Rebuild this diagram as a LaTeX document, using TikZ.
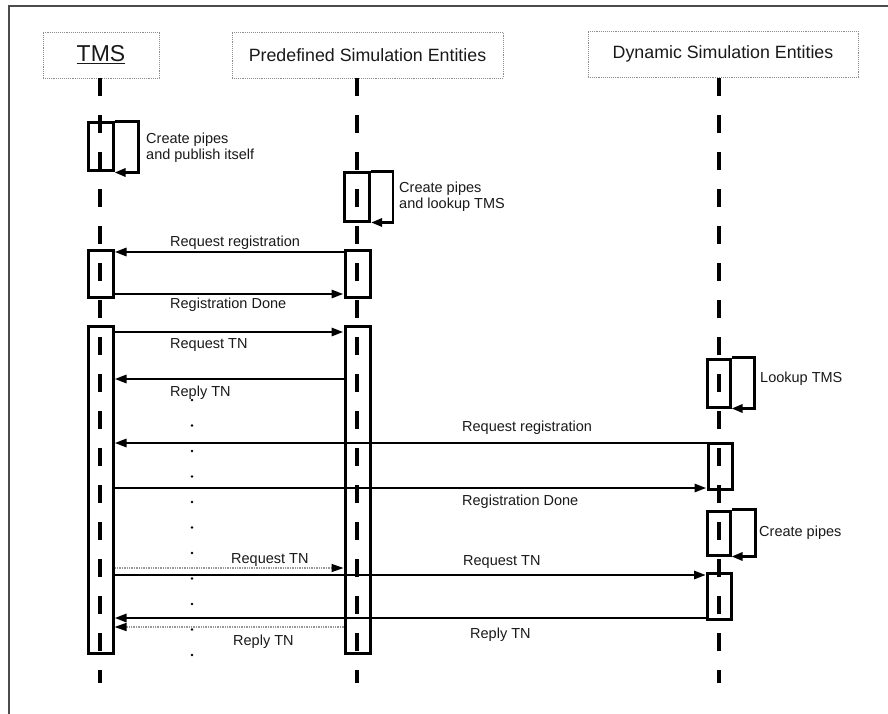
\documentclass[tikz,border=0pt]{standalone}
\usepackage{fontspec}
\setmainfont{Liberation Sans}
\usetikzlibrary{arrows.meta}
\begin{document}
\begin{tikzpicture}[x=1pt,y=-1pt,
  lbl/.style={anchor=west,inner sep=0pt,font=\fontsize{14.5}{16}\selectfont,text=black!90,align=left},
  hdr/.style={draw=black!45,densely dotted,line width=0.9pt,minimum height=46pt,inner sep=0pt,font=\fontsize{17.8}{20}\selectfont,text=black!90},
  act/.style={draw,line width=3pt,minimum width=25pt,inner sep=0pt,rectangle},
  life/.style={line width=3.5pt,dash pattern=on 18pt off 19pt},
  msg/.style={line width=2.8pt,-{Triangle[length=12pt,width=8pt]}},
  ghost/.style={line width=1.4pt,black!40,densely dotted,-{Triangle[length=12pt,width=8pt,fill=black,color=black]}},
  selfloop/.style={line width=2.8pt,-{Triangle[length=11pt,width=8pt]}},
  dot/.style={circle,fill=black,inner sep=0pt,minimum size=2.6pt}
]
\useasboundingbox (0,0) rectangle (888,714);
% frame
\draw[line width=1.5pt,black!70] (9,714) -- (9,6) -- (888,6);

% headers
\node[hdr,minimum width=116pt,font=\fontsize{23}{26}\selectfont] (hT) at (101,55) {\underline{TMS}};
\node[hdr,minimum width=271pt] (hP) at (367.5,55) {Predefined Simulation Entities};
\node[hdr,minimum width=270pt] (hD) at (723,54) {Dynamic Simulation Entities};

% lifelines
\coordinate (lT0) at (100,78);  \coordinate (lT1) at (100,683);
\coordinate (lP0) at (357,78);  \coordinate (lP1) at (357,683);
\coordinate (lD0) at (719,78);  \coordinate (lD1) at (719,683);
\draw[life] (lT0) -- (lT1);
\draw[life] (lP0) -- (lP1);
\draw[life] (lD0) -- (lD1);

% activation boxes
\node[act,minimum height=48pt] (tS) at (100.5,147) {};
\node[act,minimum height=47pt] (t1) at (100.5,273.5) {};
\node[act,minimum height=327pt] (t2) at (100.5,489.5) {};
\node[act,minimum height=48pt] (pS) at (357,197) {};
\node[act,minimum height=47pt] (p1) at (357.5,273.5) {};
\node[act,minimum height=327pt] (p2) at (357.5,489.5) {};
\node[act,minimum height=48pt,minimum width=23pt] (dS1) at (718.5,383) {};
\node[act,minimum height=46pt,minimum width=24pt] (d1) at (720,466) {};
\node[act,minimum height=44pt,minimum width=23pt] (dS2) at (718.5,533) {};
\node[act,minimum height=46pt,minimum width=24pt] (d2) at (719.5,596) {};

% self loops
\draw[selfloop] (tS.north east) -- ++(24,0) |- (tS.south east);
\draw[selfloop] (pS.north east) -- ++(22,0) |- (pS.south east);
\draw[selfloop] (dS1.north east) -- ++(23,0) |- (dS1.south east);
\draw[selfloop] (dS2.north east) -- ++(24,0) |- (dS2.south east);

\node[lbl] (ltS) at (146,147.5) {Create pipes\\and publish itself};
\node[lbl] (lpS) at (399,197) {Create pipes\\and lookup TMS};
\node[lbl] (ldS1) at (760,379) {Lookup TMS};
\node[lbl] (ldS2) at (759,533) {Create pipes};

% messages
\draw[msg] (p1.west |- 0,252) -- (t1.east |- 0,252);
\node[lbl] (m1) at (170,243) {Request registration};
\draw[msg] (t1.east |- 0,294) -- (p1.west |- 0,294);
\node[lbl] (m2) at (170,305) {Registration Done};
\draw[msg] (t2.east |- 0,332) -- (p2.west |- 0,332);
\node[lbl] (m3) at (170,345) {Request TN};
\draw[msg] (p2.west |- 0,379) -- (t2.east |- 0,379);
\node[lbl] (m4) at (170,393) {Reply TN};

\draw[msg] (d1.west |- 0,443) -- (t2.east |- 0,443);
\node[lbl] (m5) at (462,428) {Request registration};
\draw[msg] (t2.east |- 0,488) -- (d1.west |- 0,488);
\node[lbl] (m6) at (462,502) {Registration Done};

\draw[ghost] (t2.east |- 0,568) -- (p2.west |- 0,568);
\node[lbl] (m7) at (231,560) {Request TN};
\draw[msg] (t2.east |- 0,575) -- (d2.west |- 0,575);
\node[lbl] (m8) at (463,562) {Request TN};
\draw[msg] (d2.west |- 0,618) -- (t2.east |- 0,618);
\node[lbl] (m9) at (470,635) {Reply TN};
\draw[ghost] (p2.west |- 0,627) -- (t2.east |- 0,627);
\node[lbl] (m10) at (233,642) {Reply TN};

% ellipsis dots
\foreach \i in {0,...,10} {
  \node[dot] (e\i) at (192,400+25.5*\i) {};
}
\end{tikzpicture}
\end{document}
